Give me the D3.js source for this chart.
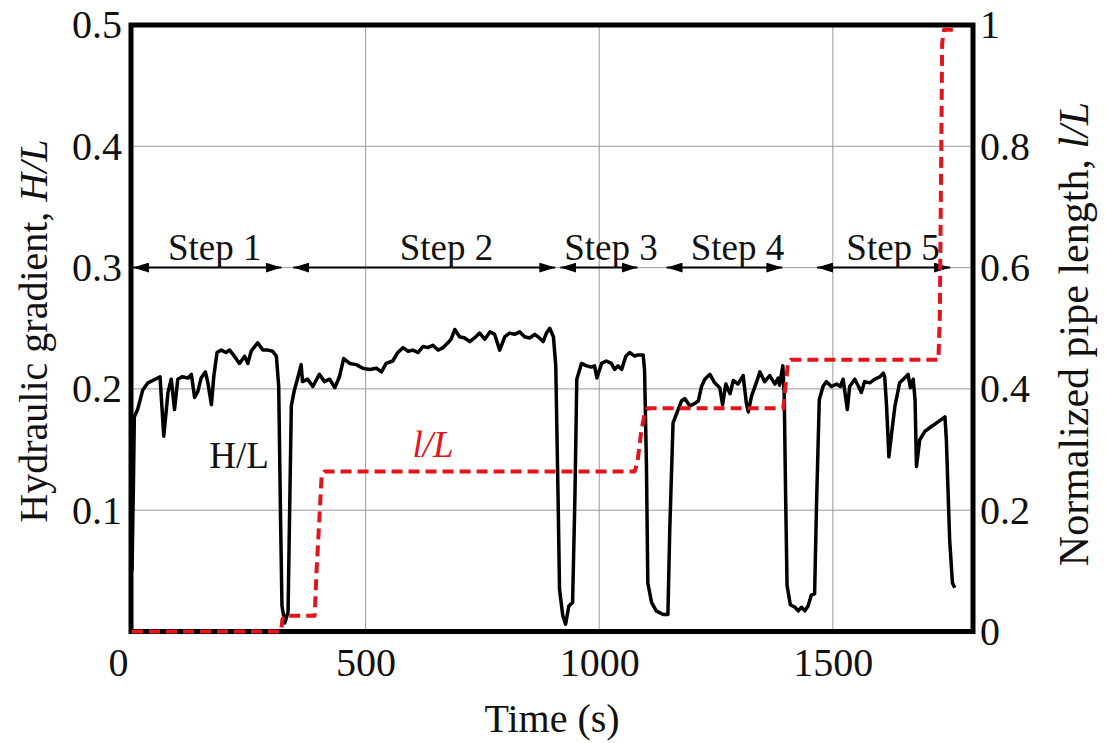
<!DOCTYPE html>
<html>
<script src="https://d3js.org/d3.v7.min.js"></script>
<head>
    <meta charset="UTF-8">
    <title>H/L and l/L vs time</title>
    <style type="text/css">
        body { margin: 0; background: #fff; }
        svg text { font-family: "Liberation Serif", "Times New Roman", serif; fill: #111; }
        .grid line { stroke: #9a9a9a; stroke-width: 1; }
        .axis path { display: none; }
        .axis text { font-size: 40px; }
    </style>
</head>
<body>
<script type="text/javascript">
    // H/L trace (time in s, hydraulic gradient)
    var hlTime = [0, 3, 5, 12, 23, 34, 55, 60, 68, 77, 84, 91, 98, 107, 120, 127, 134, 141, 148, 157, 162, 170, 175,
        182, 191, 201, 209, 219, 230, 241, 248, 255, 269, 280, 291, 301, 309, 314, 318, 321, 327, 334, 337, 341,
        347, 354, 362, 365, 376, 387, 401, 412, 423, 434, 444, 453, 466, 480, 494, 509, 523, 534, 544, 558, 569,
        580, 591, 601, 612, 623, 633, 644, 655, 666, 676, 683, 691, 701, 712, 723, 733, 744, 755, 766, 776, 787,
        798, 808, 819, 830, 840, 851, 862, 872, 880, 887, 894, 902, 907, 912, 915, 922, 928, 935, 943, 948, 952,
        962, 973, 983, 990, 995, 1005, 1015, 1026, 1033, 1040, 1048, 1057, 1065, 1076, 1083, 1094, 1097, 1101,
        1104, 1112, 1122, 1137, 1147, 1151, 1158, 1165, 1176, 1183, 1194, 1204, 1212, 1219, 1226, 1237, 1247,
        1258, 1264, 1271, 1280, 1287, 1297, 1308, 1315, 1319, 1326, 1337, 1344, 1354, 1365, 1376, 1383, 1386,
        1393, 1396, 1399, 1402, 1409, 1419, 1426, 1433, 1440, 1447, 1454, 1461, 1465, 1471, 1479, 1486, 1497,
        1508, 1516, 1522, 1531, 1536, 1547, 1555, 1561, 1568, 1579, 1590, 1601, 1608, 1611, 1615, 1620, 1626,
        1633, 1643, 1651, 1661, 1666, 1672, 1676, 1679, 1686, 1697, 1711, 1726, 1740, 1743, 1750, 1756, 1761];
    var hlValue = [0.05, 0.12, 0.177, 0.183, 0.199, 0.205, 0.209, 0.210, 0.161, 0.197, 0.208, 0.183, 0.208, 0.210,
        0.209, 0.212, 0.193, 0.198, 0.209, 0.214, 0.206, 0.187, 0.210, 0.230, 0.232, 0.230, 0.232, 0.227, 0.221,
        0.227, 0.221, 0.231, 0.238, 0.232, 0.232, 0.231, 0.227, 0.202, 0.092, 0.021, 0.007, 0.016, 0.090, 0.186,
        0.198, 0.208, 0.220, 0.206, 0.208, 0.202, 0.212, 0.206, 0.208, 0.201, 0.210, 0.225, 0.221, 0.220, 0.217,
        0.216, 0.217, 0.214, 0.221, 0.223, 0.230, 0.234, 0.231, 0.232, 0.230, 0.235, 0.234, 0.236, 0.232, 0.234,
        0.238, 0.241, 0.249, 0.243, 0.242, 0.239, 0.242, 0.246, 0.241, 0.247, 0.245, 0.232, 0.243, 0.246, 0.245,
        0.247, 0.243, 0.242, 0.245, 0.242, 0.239, 0.246, 0.250, 0.243, 0.219, 0.109, 0.035, 0.013, 0.006, 0.021,
        0.024, 0.111, 0.208, 0.221, 0.219, 0.218, 0.219, 0.209, 0.221, 0.223, 0.221, 0.216, 0.219, 0.216, 0.227,
        0.230, 0.227, 0.228, 0.228, 0.216, 0.139, 0.040, 0.024, 0.017, 0.014, 0.014, 0.084, 0.172, 0.179, 0.190,
        0.192, 0.186, 0.188, 0.190, 0.202, 0.208, 0.212, 0.205, 0.201, 0.187, 0.204, 0.196, 0.207, 0.204, 0.211,
        0.188, 0.181, 0.194, 0.206, 0.214, 0.206, 0.211, 0.204, 0.209, 0.203, 0.219, 0.194, 0.111, 0.038, 0.022,
        0.020, 0.017, 0.020, 0.017, 0.021, 0.030, 0.031, 0.103, 0.191, 0.202, 0.206, 0.202, 0.204, 0.202, 0.208,
        0.183, 0.202, 0.208, 0.202, 0.197, 0.206, 0.205, 0.208, 0.210, 0.213, 0.210, 0.186, 0.144, 0.164, 0.186,
        0.205, 0.208, 0.212, 0.201, 0.208, 0.191, 0.136, 0.158, 0.165, 0.169, 0.173, 0.177, 0.158, 0.076, 0.040,
        0.036];

    // l/L staircase (right axis)
    var lTime = [0, 319, 322, 327, 391, 395, 402, 406, 412, 1076, 1082, 1090, 1098, 1104, 1394, 1398, 1404, 1410,
        1726, 1729, 1734, 1738, 1760];
    var lValue = [0, 0, 0.02, 0.026, 0.026, 0.10, 0.20, 0.258, 0.264, 0.264, 0.28, 0.33, 0.362, 0.368, 0.368, 0.40,
        0.442, 0.448, 0.448, 0.52, 0.97, 0.992, 0.992];

    var stepNames = ["Step 1", "Step 2", "Step 3", "Step 4", "Step 5"];
    var stepStart = [2, 345, 917, 1144, 1466];
    var stepEnd = [320, 906, 1082, 1392, 1751];
    var stepLabelAt = [177, 673, 1025, 1296, 1629];
    var stepLevel = 0.3;

    var xTicks = [0, 500, 1000, 1500];
    var yLeftTicks = [0.1, 0.2, 0.3, 0.4, 0.5];
    var yRightTicks = [0, 0.2, 0.4, 0.6, 0.8, 1];

    var width = 1106, height = 743;
    var x = d3.scaleLinear().domain([0, 1800]).range([132, 973]);
    var y = d3.scaleLinear().domain([0, 0.5]).range([631.5, 25]);
    var y2 = d3.scaleLinear().domain([0, 1]).range([631.5, 25]);

    var svg = d3.select("body").append("svg")
        .attr("width", width)
        .attr("height", height);

    var defs = svg.append("defs");
    defs.append("marker")
        .attr("id", "arr")
        .attr("viewBox", "0 0 16 10")
        .attr("refX", 16).attr("refY", 5)
        .attr("markerWidth", 16).attr("markerHeight", 10)
        .attr("markerUnits", "userSpaceOnUse")
        .attr("orient", "auto-start-reverse")
        .append("path").attr("d", "M0,0 L16,5 L0,10 Z").attr("fill", "#000");

    // grid
    svg.append("g").attr("class", "grid")
        .selectAll("line.v").data(xTicks.slice(1)).enter().append("line")
        .attr("x1", function (d) { return x(d); }).attr("x2", function (d) { return x(d); })
        .attr("y1", y(0)).attr("y2", y(0.5));
    svg.append("g").attr("class", "grid")
        .selectAll("line.h").data(yLeftTicks.slice(0, 4)).enter().append("line")
        .attr("x1", x(0)).attr("x2", x(1800))
        .attr("y1", function (d) { return y(d); }).attr("y2", function (d) { return y(d); });

    // frame (under the curves)
    svg.append("rect")
        .attr("x", x(0) - 1).attr("y", y(0.5))
        .attr("width", x(1800) - x(0) + 1).attr("height", y(0) - y(0.5))
        .attr("fill", "none").attr("stroke", "#000").attr("stroke-width", 5);

    // step arrows
    var steps = svg.append("g");
    stepNames.forEach(function (name, i) {
        steps.append("line")
            .attr("x1", x(stepStart[i])).attr("x2", x(stepEnd[i]))
            .attr("y1", y(stepLevel)).attr("y2", y(stepLevel))
            .attr("stroke", "#000").attr("stroke-width", 2)
            .attr("marker-start", "url(#arr)")
            .attr("marker-end", "url(#arr)");
        steps.append("text")
            .attr("x", x(stepLabelAt[i])).attr("y", y(stepLevel) - 8)
            .attr("text-anchor", "middle")
            .style("font-size", "37px")
            .text(name);
    });

    // H/L line
    var hlLine = d3.line()
        .x(function (d, i) { return x(hlTime[i]); })
        .y(function (d, i) { return y(hlValue[i]); });
    svg.append("path")
        .attr("d", hlLine(hlTime))
        .attr("fill", "none")
        .attr("stroke", "#000")
        .attr("stroke-width", 3.5)
        .attr("stroke-linejoin", "round");

    // l/L dashed line
    var lLine = d3.line()
        .x(function (d, i) { return x(lTime[i]); })
        .y(function (d, i) { return y2(lValue[i]); });
    svg.append("path")
        .attr("d", lLine(lTime))
        .attr("fill", "none")
        .attr("stroke", "#e3141c")
        .attr("stroke-width", 4)
        .attr("stroke-dasharray", "11,6")
        .attr("stroke-linejoin", "round");

    // axes
    var xAxis = svg.append("g").attr("class", "axis")
        .attr("transform", "translate(0," + y(0) + ")")
        .call(d3.axisBottom(x).tickValues(xTicks).tickSize(0).tickPadding(16).tickFormat(d3.format("d")));
    xAxis.selectAll(".tick text").filter(function (d) { return d === 0; }).attr("dx", -14);

    svg.append("g").attr("class", "axis")
        .attr("transform", "translate(" + x(0) + ",0)")
        .call(d3.axisLeft(y).tickValues(yLeftTicks).tickSize(0).tickPadding(10).tickFormat(d3.format(".1f")));

    svg.append("g").attr("class", "axis")
        .attr("transform", "translate(" + x(1800) + ",0)")
        .call(d3.axisRight(y2).tickValues(yRightTicks).tickSize(0).tickPadding(7)
            .tickFormat(function (d) { return d === 0 || d === 1 ? d : d.toFixed(1); }));

    svg.selectAll(".axis text").attr("fill", "#111");

    // series labels
    svg.append("text")
        .attr("x", 239).attr("y", 468)
        .attr("text-anchor", "middle")
        .style("font-size", "37px")
        .text("H/L");
    svg.append("text")
        .attr("x", 433).attr("y", 457)
        .attr("text-anchor", "middle")
        .style("font-size", "37px").style("font-style", "italic")
        .style("fill", "#e3141c")
        .text("l/L");

    // axis titles
    svg.append("text")
        .attr("transform", "translate(552,732)")
        .attr("text-anchor", "middle")
        .style("font-size", "40px")
        .text("Time (s)");

    var leftTitle = svg.append("text")
        .attr("transform", "translate(47,331) rotate(-90)")
        .attr("text-anchor", "middle")
        .style("font-size", "40px");
    leftTitle.append("tspan").text("Hydraulic gradient, ");
    leftTitle.append("tspan").style("font-style", "italic").text("H/L");

    var rightTitle = svg.append("text")
        .attr("transform", "translate(1088,334) rotate(-90)")
        .attr("text-anchor", "middle")
        .style("font-size", "42px");
    rightTitle.append("tspan").text("Normalized pipe length, ");
    rightTitle.append("tspan").style("font-style", "italic").text("l/L");
</script>
</body>
</html>
